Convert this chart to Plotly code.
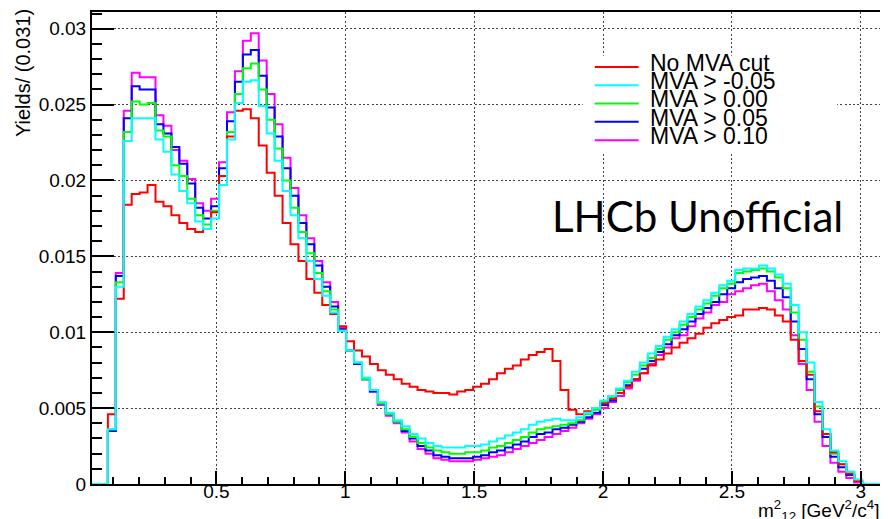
import numpy as np
import plotly.graph_objects as go

# histogram binning (100 bins, width ~0.031)
x_min = 0.0176
x_max = 3.0976
n_bins = 100

labels = ["No MVA cut", "MVA > -0.05", "MVA > 0.00", "MVA > 0.05", "MVA > 0.10"]
colors = ["#ff0000", "#00ffff", "#00ff00", "#0000ff", "#ff00ff"]

no_cut = [0, 0, .0046, .0122, .0184, .0191, .0192, .0197, .0186, .0183,
          .0177, .0172, .0168, .0166, .0168, .0179, .0203, .0229, .0246, .0247,
          .0241, .0223, .0205, .0190, .0172, .0158, .0147, .0135, .0126, .0118,
          .0112, .0104, .0094, .0088, .0084, .0079, .0075, .0072, .0069, .0066,
          .0064, .0062, .0061, .0060, .0060, .0059, .0061, .0062, .0064, .0066,
          .0069, .0073, .0076, .0078, .0082, .0085, .0087, .0089, .0081, .0062,
          .0049, .0046, .0048, .0050, .0053, .0056, .0060, .0064, .0069, .0073,
          .0078, .0082, .0086, .0090, .0093, .0096, .0099, .0103, .0106, .0108,
          .0110, .0111, .0115, .0115, .0116, .0115, .0111, .0107, .0095, .0081,
          .0072, .0048, .0033, .0021, .0013, .0007, .0002, 0, 0, 0]

mva_m005 = [0, 0, .0036, .0130, .0226, .0241, .0241, .0241, .0227, .0219,
            .0204, .0193, .0185, .0173, .0168, .0175, .0197, .0227, .0251, .0265,
            .0266, .0249, .0231, .0213, .0193, .0177, .0162, .0147, .0135, .0124,
            .0113, .0101, .0088, .0080, .0070, .0062, .0054, .0047, .0042, .0038,
            .0033, .0030, .0027, .0025, .0024, .0024, .0024, .0025, .0025, .0026,
            .0028, .0030, .0032, .0034, .0036, .0039, .0041, .0042, .0043, .0042,
            .0042, .0044, .0047, .0050, .0055, .0058, .0063, .0068, .0074, .0080,
            .0086, .0091, .0097, .0102, .0107, .0112, .0117, .0121, .0126, .0131,
            .0134, .0141, .0142, .0142, .0144, .0142, .0138, .0132, .0118, .0100,
            .0080, .0054, .0036, .0022, .0015, .0008, .0003, 0, 0, 0]

mva_000 = [0, 0, .0036, .0133, .0232, .0252, .0250, .0251, .0233, .0229,
           .0210, .0203, .0188, .0177, .0171, .0180, .0203, .0232, .0257, .0274,
           .0277, .0260, .0240, .0221, .0200, .0182, .0166, .0152, .0139, .0127,
           .0115, .0101, .0088, .0080, .0069, .0062, .0053, .0046, .0041, .0036,
           .0031, .0027, .0024, .0022, .0021, .0020, .0020, .0021, .0021, .0022,
           .0024, .0025, .0027, .0029, .0031, .0034, .0036, .0037, .0038, .0039,
           .0040, .0042, .0046, .0049, .0054, .0057, .0062, .0067, .0072, .0078,
           .0083, .0089, .0095, .0100, .0105, .0110, .0115, .0119, .0124, .0129,
           .0132, .0139, .0140, .0141, .0142, .0140, .0136, .0129, .0113, .0095,
           .0074, .0051, .0033, .0020, .0013, .0008, .0002, 0, 0, 0]

mva_005 = [0, 0, .0035, .0137, .0241, .0262, .0260, .0260, .0237, .0231,
           .0222, .0211, .0198, .0182, .0175, .0183, .0208, .0239, .0265, .0283,
           .0286, .0269, .0248, .0229, .0208, .0190, .0172, .0158, .0144, .0130,
           .0117, .0102, .0088, .0079, .0069, .0061, .0053, .0046, .0041, .0035,
           .0030, .0025, .0022, .0019, .0018, .0017, .0017, .0017, .0018, .0019,
           .0021, .0022, .0024, .0026, .0028, .0031, .0033, .0034, .0036, .0037,
           .0039, .0041, .0044, .0047, .0052, .0055, .0060, .0065, .0069, .0076,
           .0081, .0087, .0092, .0098, .0102, .0107, .0112, .0116, .0120, .0125,
           .0129, .0133, .0135, .0136, .0137, .0134, .0129, .0123, .0107, .0089,
           .0069, .0046, .0031, .0018, .0011, .0006, .0002, 0, 0, 0]

mva_010 = [0, 0, .0035, .0139, .0246, .0271, .0268, .0268, .0243, .0236,
           .0220, .0213, .0201, .0185, .0180, .0188, .0212, .0245, .0272, .0292,
           .0297, .0279, .0257, .0237, .0215, .0195, .0177, .0162, .0147, .0133,
           .0120, .0103, .0088, .0079, .0069, .0061, .0052, .0045, .0040, .0034,
           .0028, .0023, .0020, .0017, .0016, .0015, .0015, .0015, .0016, .0017,
           .0018, .0019, .0021, .0023, .0025, .0027, .0029, .0031, .0033, .0035,
           .0037, .0040, .0043, .0046, .0050, .0054, .0058, .0063, .0068, .0073,
           .0079, .0085, .0090, .0096, .0098, .0104, .0109, .0113, .0118, .0120,
           .0125, .0127, .0129, .0131, .0132, .0127, .0121, .0115, .0098, .0079,
           .0062, .0041, .0025, .0014, .0008, .0004, .0001, 0, 0, 0]

series = [no_cut, mva_m005, mva_000, mva_005, mva_010]

edges = np.linspace(x_min, x_max, n_bins + 1)

fig = go.Figure()
# draw order: cyan ends up on top, like the ROOT canvas
for i in [4, 3, 2, 0, 1]:
    vals = series[i]
    fig.add_trace(go.Scatter(
        x=edges, y=list(vals) + [vals[-1]],
        mode="lines", line=dict(color=colors[i], width=2, shape="hv"),
        name=labels[i], showlegend=False,
    ))

tick_font = dict(family="Liberation Sans, Arial, sans-serif", size=19, color="black")

fig.update_xaxes(
    range=[x_min, x_max], dtick=0.5, tick0=0,
    showline=True, linecolor="black", linewidth=2, mirror=True,
    ticks="inside", ticklen=13, tickwidth=1.5, tickcolor="black",
    ticklabelstandoff=-11,
    minor=dict(dtick=0.1, ticks="inside", ticklen=7, tickcolor="black", showgrid=False),
    showgrid=True, gridcolor="#444", gridwidth=1, griddash="2px,2.3px",
    zeroline=False, tickfont=tick_font,
)
fig.update_yaxes(
    range=[0, 0.0311], dtick=0.005, tick0=0,
    showline=True, linecolor="black", linewidth=2, mirror=True,
    ticks="inside", ticklen=22, tickwidth=1.5, tickcolor="black",
    minor=dict(dtick=0.001, ticks="inside", ticklen=10, tickcolor="black", showgrid=False),
    showgrid=True, gridcolor="#444", gridwidth=1, griddash="2px,2.3px",
    zeroline=False, tickfont=tick_font,
)

# plot area in window pixels: x 92..888, y 12..476
def px(x):
    return (x - 92) / 796

def py(y):
    return 1 - (y - 12) / 464

# legend box (white, hides grid) with line samples
fig.add_shape(type="rect", xref="paper", yref="paper",
              x0=px(584), x1=px(839), y0=py(150), y1=py(55),
              fillcolor="white", line=dict(width=0), layer="above")
for j, lab in enumerate(labels):
    ypx = 66 + 18 * j
    fig.add_shape(type="line", xref="paper", yref="paper",
                  x0=px(596), x1=px(640), y0=py(ypx), y1=py(ypx),
                  line=dict(color=colors[j], width=2), layer="above")
    fig.add_annotation(xref="paper", yref="paper", x=px(649), y=py(ypx - 4),
                       text=lab, showarrow=False, xanchor="left", yanchor="middle",
                       font=dict(family="Liberation Sans, Arial, sans-serif", size=23, color="black"))

fig.add_annotation(xref="paper", yref="paper", x=px(551), y=py(213),
                   text="LHCb Unofficial", showarrow=False, xanchor="left", yanchor="middle",
                   font=dict(family="Lato, Open Sans, sans-serif", size=42, color="black"))

fig.add_annotation(xref="paper", yref="paper", x=px(23), y=py(7),
                   text="Yields/ (0.031)", showarrow=False, textangle=-90,
                   xanchor="center", yanchor="top",
                   font=dict(family="Liberation Sans, Arial, sans-serif", size=20, color="black"))

fig.add_annotation(xref="paper", yref="paper", x=px(883), y=py(487),
                   text="m<sup>2</sup><sub>12</sub> [GeV<sup>2</sup>/c<sup>4</sup>]",
                   showarrow=False, xanchor="right", yanchor="top",
                   font=dict(family="Liberation Sans, Arial, sans-serif", size=19, color="black"))

# the page body adds an 8px margin, so the figure is sized/offset to compensate
fig.update_layout(
    width=880, height=511,
    margin=dict(l=84, r=0, t=4, b=35),
    paper_bgcolor="white", plot_bgcolor="white",
    showlegend=False,
)

fig.write_html("out.html")
